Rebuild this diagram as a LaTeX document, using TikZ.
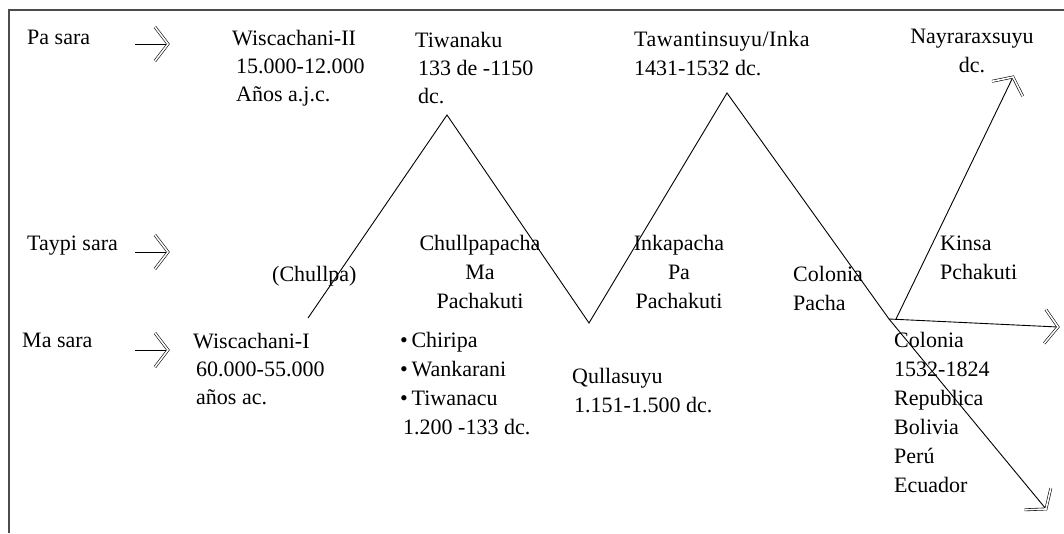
\documentclass[tikz,border=0pt]{standalone}
\usepackage{fontspec}
\setmainfont{Liberation Serif}
\usetikzlibrary{decorations.markings}
\tikzset{
  lbl/.style={inner sep=0pt, anchor=base west, align=left, font={\fontsize{22}{29}\selectfont}},
  lblc/.style={inner sep=0pt, anchor=base, align=center, font={\fontsize{22}{29}\selectfont}},
  tight/.style={font={\fontsize{22}{28}\selectfont}},
  zig/.style={line width=0.9pt, line join=miter},
  dblarrow/.style={line width=0.9pt, postaction={decorate}, decoration={markings,
    mark=at position 1 with {\draw[line width=0.6pt, double, double distance=1.6pt, line join=miter]
      (-13pt,17pt) -- (0pt,0pt) -- (-13pt,-17pt);}}},
  frame/.style={line width=1.2pt, draw=black!70}
}
\begin{document}
\begin{tikzpicture}[x=1pt,y=-1pt]
\useasboundingbox (0,0) rectangle (1064,533);
\draw[frame] (1064,10) -- (9,10) -- (9,533);

% row labels
\node[lbl] (pasara) at (27,44) {Pa sara};
\node[lbl] (taypi) at (27,250) {Taypi sara};
\node[lbl] (masara) at (22,347) {Ma sara};
\coordinate (a1s) at (135,44);  \coordinate (a1e) at (168,44);
\coordinate (a2s) at (135,252); \coordinate (a2e) at (168,252);
\coordinate (a3s) at (135,350); \coordinate (a3e) at (168,350);
\draw[dblarrow] (a1s) -- (a1e);
\draw[dblarrow] (a2s) -- (a2e);
\draw[dblarrow] (a3s) -- (a3e);

% texts (anchor = baseline of the last line)
\node[lbl,tight] (wisII) at (232,101) {Wiscachani-II\\\hspace*{4pt}15.000-12.000\\\hspace*{4pt}Años a.j.c.};
\node[lbl,tight] (tiwa) at (415,103) {Tiwanaku\\\hspace*{3pt}133 de -1150\\\hspace*{3pt}dc.};
\node[lbl] (tawa) at (634,75) {{\addfontfeature{LetterSpace=2}Tawantinsuyu/Inka}\\1431-1532 dc.};
\node[lblc] (nayra) at (972,72) {Nayraraxsuyu\\dc.};
\node[lbl] (chullpa) at (272,281) {(Chullpa)};
\node[lblc] (chpacha) at (480,308) {Chullpapacha\\Ma\\Pachakuti};
\node[lblc] (inkapacha) at (679,308) {Inkapacha\\Pa\\Pachakuti};
\node[lbl] (colpacha) at (793,310) {Colonia\\Pacha};
\node[lbl] (kinsa) at (940,279) {Kinsa\\Pchakuti};
\node[lbl,tight] (wisI) at (193,404) {Wiscachani-I\\\hspace*{3pt}60.000-55.000\\\hspace*{3pt}años ac.};
\node[lbl] (bullets) at (400,434) {\textbullet\,Chiripa\\\textbullet\,Wankarani\\\textbullet\,Tiwanacu\\\hspace*{3pt}1.200 -133 dc.};
\node[lbl] (qulla) at (572,412) {Qullasuyu\\\hspace*{2pt}1.151-1.500 dc.};
\node[lbl] (colonia) at (894,492) {Colonia\\1532-1824\\Republica\\Bolivia\\Perú\\Ecuador};

% zigzag
\coordinate (z0) at (308,318);
\coordinate (z1) at (447,115);
\coordinate (z2) at (589,323);
\coordinate (z3) at (727,93);
\coordinate (j) at (889,319);
\coordinate (j2) at (896,319);
\draw[zig] (z0) -- (z1) -- (z2) -- (z3) -- (j);

% final arrows
\coordinate (upTip) at (1013,77);
\coordinate (hTip) at (1058,327);
\coordinate (dTip) at (1046,509);
\draw[dblarrow] (j2) -- (upTip);
\draw[dblarrow] (j) -- (hTip);
\draw[dblarrow] (j) -- (dTip);
\end{tikzpicture}
\end{document}
